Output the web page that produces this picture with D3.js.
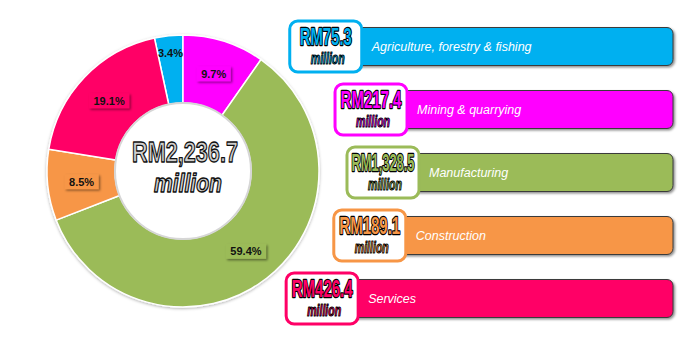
<!DOCTYPE html>
<html>
<head>
<meta charset="utf-8">
<script src="https://cdn.jsdelivr.net/npm/d3@7"></script>
<style>
  html, body { margin: 0; padding: 0; background: #fff; }
  svg { display: block; }
</style>
</head>
<body>
<svg id="chart" width="700" height="343"></svg>
<script>
// ---- data ----
const categories = ["Agriculture, forestry & fishing", "Mining & quarrying", "Manufacturing", "Construction", "Services"];
const values = [75.3, 217.4, 1328.5, 189.1, 426.4];
const unitLabel = "million";
// ---- styles ----
const colors = ["#00B0F0", "#FF00FF", "#9BBB59", "#F79646", "#FF0066"];

const svg = d3.select("#chart");
const cx = 183, cy = 171, R = 136, r = 68;
const condFont = "'Liberation Sans Narrow', 'Liberation Sans', Arial, sans-serif";

const defs = svg.append("defs");
const sh = defs.append("filter").attr("id", "shadow").attr("x", "-20%").attr("y", "-20%").attr("width", "140%").attr("height", "160%");
sh.append("feDropShadow").attr("dx", 1.5).attr("dy", 1.5).attr("stdDeviation", 1).attr("flood-color", "#000").attr("flood-opacity", 0.45);
const sh2 = defs.append("filter").attr("id", "pieShadow").attr("x", "-10%").attr("y", "-10%").attr("width", "120%").attr("height", "120%");
sh2.append("feDropShadow").attr("dx", 0).attr("dy", 1).attr("stdDeviation", 1.5).attr("flood-color", "#000").attr("flood-opacity", 0.3);

const total = d3.sum(values);
const a0 = values[0] / total * 2 * Math.PI;
const pie = d3.pie().sort(null).startAngle(-a0).endAngle(2 * Math.PI - a0);
const arcs = pie(values);
const arc = d3.arc().innerRadius(r).outerRadius(R);
const fmtPct = d3.format(".1%");
const fmtRM = v => "RM" + d3.format(",.1f")(v);

// condensed text helper: squeeze horizontally to a target width with a transform
function condensed(parent, x, y, str, size, targetW, opts) {
  const gg = parent.append("g");
  const t = gg.append("text").attr("text-anchor", "middle")
    .attr("font-family", condFont).attr("font-weight", "bold")
    .attr("font-style", opts.italic ? "italic" : "normal")
    .attr("font-size", size).attr("fill", opts.fill).attr("stroke", opts.stroke)
    .attr("stroke-width", opts.sw).attr("stroke-linejoin", "round")
    .text(str);
  if (opts.paintOrder) t.attr("paint-order", "stroke");
  const w = t.node().getComputedTextLength();
  const sx = Math.min(1, targetW / w);
  gg.attr("transform", `translate(${x},${y}) scale(${sx},1)`);
  return gg;
}

const g = svg.append("g").attr("transform", `translate(${cx},${cy})`);
g.append("g").attr("filter", "url(#pieShadow)")
  .selectAll("path").data(arcs).join("path")
  .attr("d", arc)
  .attr("fill", (d, i) => colors[i])
  .attr("stroke", "#fff").attr("stroke-width", 1.5);

// inner circle
g.append("circle").attr("r", r).attr("fill", "#fff").attr("stroke", "#d6d6d6").attr("stroke-width", 2);

// percentage labels
arcs.forEach((d, i) => {
  const frac = values[i] / total;
  const lr = frac < 0.05 ? 119 : 102;
  const la = d3.arc().innerRadius(lr).outerRadius(lr);
  const [x, y] = la.centroid(d);
  const lg = g.append("g").attr("transform", `translate(${x},${y})`);
  const t = lg.append("text").attr("text-anchor", "middle").attr("dy", "0.36em")
    .attr("font-family", "Liberation Sans, Arial, sans-serif").attr("font-weight", "bold")
    .attr("font-size", 11).attr("fill", "#111").text(fmtPct(frac));
  if (frac >= 0.05) {
    const w = t.node().getComputedTextLength() + 9;
    lg.insert("rect", "text").attr("x", -w / 2).attr("y", -7.5).attr("width", w).attr("height", 15)
      .attr("fill", colors[i]).attr("filter", "url(#shadow)");
  }
});

// center total
condensed(g, 2, -9, fmtRM(total), 30, 106, { fill: "#cfcfcf", stroke: "#111", sw: 1.4 });
condensed(g, 5, 21, unitLabel, 26, 68, { italic: true, fill: "#cfcfcf", stroke: "#111", sw: 1.4 });

// legend rows
const yRow = d3.scalePoint().domain(categories).range([46.5, 298.5]);
const Rl = 164, boxW = 72, boxH = 51, barH = 38, barRight = 673;
const leg = svg.append("g");
categories.forEach((c, i) => {
  const y = yRow(c);
  const dy = y - cy;
  const bx = cx + Math.sqrt(Rl * Rl - dy * dy);
  const row = leg.append("g");
  row.append("rect").attr("x", bx + 30).attr("y", y - barH / 2).attr("width", barRight - bx - 30).attr("height", barH)
    .attr("rx", 6).attr("fill", colors[i]).attr("stroke", "#3a3a3a").attr("stroke-width", 1)
    .attr("filter", "url(#shadow)");
  row.append("text").attr("x", bx + boxW + 10).attr("y", y).attr("dy", "0.36em")
    .attr("font-family", "Liberation Sans, Arial, sans-serif").attr("font-style", "italic")
    .attr("font-size", 12.5).attr("fill", "#fff").text(c);
  row.append("rect").attr("x", bx).attr("y", y - boxH / 2).attr("width", boxW).attr("height", boxH)
    .attr("rx", 8).attr("fill", "#fff").attr("stroke", colors[i]).attr("stroke-width", 3);
  const label = fmtRM(values[i]);
  const tw = Math.min(63, label.length * 8.7);
  condensed(row, bx + boxW / 2, y - 1.5, label, 23, tw,
    { fill: colors[i], stroke: "#000", sw: 2.4, paintOrder: true });
  condensed(row, bx + boxW / 2 + 2, y + 17.5, unitLabel, 16, 34,
    { italic: true, fill: colors[i], stroke: "#000", sw: 1.1 });
});
</script>
</body>
</html>
